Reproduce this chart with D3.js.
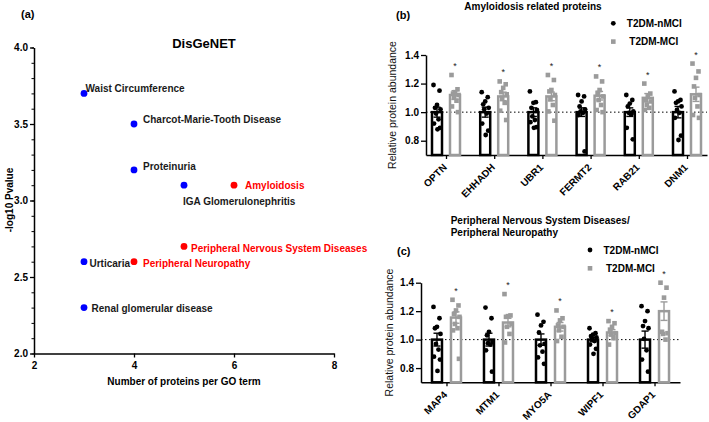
<!DOCTYPE html>
<html><head><meta charset="utf-8">
<script src="https://cdn.jsdelivr.net/npm/d3@7"></script>
<style>
body{margin:0;background:#fff;}
svg{display:block;font-family:"Liberation Sans",Arial,Helvetica,sans-serif;}
</style></head><body>
<svg id="chart" width="709" height="422"></svg>
<script>
// ---------- Panel (a) data ----------
const termNames = ["Waist Circumference","Charcot-Marie-Tooth Disease","Proteinuria","IGA Glomerulonephritis","Amyloidosis","Peripheral Nervous System Diseases","Urticaria","Peripheral Neuropathy","Renal glomerular disease"];
const termCounts = [3,4,4,5,6,5,3,4,3];
const termLogP = [3.7,3.5,3.2,3.1,3.1,2.7,2.6,2.6,2.3];
const termRelated = [false,false,false,false,true,true,false,true,false];
const aXTicks = [2,4,6,8];
const aYTicks = [2.0,2.5,3.0,3.5,4.0];

// ---------- Panel (b) data ----------
const bGenes = ["OPTN","EHHADH","UBR1","FERMT2","RAB21","DNM1"];
const bCtrlMean = [1.0,1.0,1.0,1.0,1.0,1.0];
const bCtrlSem = [0.035,0.035,0.03,0.03,0.03,0.04];
const bMciMean = [1.12,1.11,1.11,1.115,1.10,1.125];
const bMciSem = [0.03,0.03,0.03,0.03,0.03,0.05];
const bCtrlPts = [
  [1.19,1.15,1.05,1.03,1.02,0.99,0.95,0.92,0.89,0.88],
  [1.14,1.105,1.075,1.055,1.03,1.02,0.99,0.92,0.87,0.84],
  [1.145,1.07,1.065,1.03,1.015,0.97,0.945,0.93,0.895,0.89],
  [1.12,1.11,1.075,1.04,1.02,1.005,0.995,0.98,0.725],
  [1.12,1.085,1.06,1.04,1.005,0.995,0.985,0.89,0.81],
  [1.145,1.085,1.075,1.065,1.04,1.015,0.995,0.96,0.835,0.805]
];
const bMciPts = [
  [1.26,1.16,1.14,1.13,1.12,1.10,1.08,1.04,1.0],
  [1.215,1.195,1.17,1.14,1.125,1.10,1.065,1.01,0.945],
  [1.26,1.225,1.155,1.145,1.12,1.09,1.05,1.005,0.94],
  [1.25,1.215,1.155,1.135,1.11,1.085,1.05,1.015,1.0],
  [1.20,1.13,1.11,1.085,1.075,1.05,1.03,1.015],
  [1.34,1.285,1.24,1.18,1.12,1.10,1.04,0.98,0.96]
];

// ---------- Panel (c) data ----------
const cGenes = ["MAP4","MTM1","MYO5A","WIPF1","GDAP1"];
const cCtrlMean = [1.0,1.0,1.0,1.0,1.0];
const cCtrlSem = [0.045,0.045,0.04,0.015,0.06];
const cMciMean = [1.155,1.12,1.09,1.05,1.20];
const cMciSem = [0.04,0.03,0.03,0.02,0.065];
const cCtrlPts = [
  [1.23,1.15,1.09,1.08,1.04,0.97,0.93,0.88,0.86,0.78],
  [1.225,1.15,1.055,1.03,0.985,0.975,0.965,0.925,0.775],
  [1.175,1.125,1.10,1.05,0.97,0.96,0.915,0.875,0.83],
  [1.08,1.045,1.035,1.025,1.015,1.005,0.99,0.965,0.935,0.90],
  [1.235,1.20,1.13,1.095,1.08,1.005,0.925,0.86,0.775]
];
const cMciPts = [
  [1.28,1.24,1.205,1.18,1.16,1.11,1.08,1.065,0.865],
  [1.32,1.17,1.165,1.16,1.11,1.09,1.04,0.98],
  [1.205,1.15,1.135,1.10,1.09,1.065,1.02,0.99],
  [1.13,1.115,1.09,1.07,1.045,1.035,1.01,0.965],
  [1.40,1.365,1.295,1.055,1.045,1.04,1.0]
];
const groupNames = ["T2DM-nMCI","T2DM-MCI"];

// ---------- drawing ----------
const svg = d3.select("#chart");
const FONT = "'Liberation Sans',Arial,Helvetica,sans-serif";
const GREY = "#9b9b9b";
const BLUE = "#0000ff", RED = "#ff0000";

function styleAxis(g, fs){
  g.select(".domain").attr("stroke","#000").attr("stroke-width",1.5);
  g.selectAll(".tick line").attr("stroke","#000").attr("stroke-width",1.3);
  g.selectAll(".tick text").attr("fill","#000").attr("font-size",fs).attr("font-weight","bold").attr("font-family",FONT);
}

// ===== Panel (a) =====
const xA = d3.scaleLinear().domain([2,8]).range([34,334]);
const yA = d3.scaleLinear().domain([2,4]).range([353.5,47.5]);
const gA = svg.append("g");

gA.append("text").attr("x",21).attr("y",18).attr("font-size",11).attr("font-weight","bold").text("(a)");
gA.append("text").attr("x",204).attr("y",47.5).attr("text-anchor","middle").attr("font-size",13).attr("font-weight","bold").text("DisGeNET");

const yAminor = gA.append("g").attr("transform","translate(34,0)")
  .call(d3.axisLeft(yA).tickValues(d3.range(0,21).map(i=>2+i*0.1)).tickSize(2.5).tickFormat(""));
yAminor.select(".domain").remove();
yAminor.selectAll(".tick line").attr("stroke","#000").attr("stroke-width",1);

const yAx = gA.append("g").attr("transform","translate(34,0)")
  .call(d3.axisLeft(yA).tickValues(aYTicks).tickFormat(d3.format(".1f")).tickSize(4).tickSizeOuter(0).tickPadding(2));
styleAxis(yAx,10);
const xAx = gA.append("g").attr("transform","translate(0,353.5)")
  .call(d3.axisBottom(xA).tickValues(aXTicks).tickFormat(d3.format("d")).tickSize(4).tickSizeOuter(0).tickPadding(4));
styleAxis(xAx,10);

gA.append("text").attr("transform","translate(13,200) rotate(-90)").attr("text-anchor","middle")
  .attr("font-size",10).attr("font-weight","bold").text("-log10 Pvalue");
gA.append("text").attr("x",184).attr("y",385).attr("text-anchor","middle")
  .attr("font-size",10).attr("font-weight","bold").text("Number of proteins per GO term");

// label placement (layout only)
const labelOff = [[1.5,-5],[9,-5],[9,-3],[-1,16.5],[11,0],[7,2],[5.5,1.5],[9,2],[7.5,1]];
termNames.forEach((name,i)=>{
  const px = xA(termCounts[i]), py = yA(termLogP[i]);
  const col = termRelated[i] ? RED : BLUE;
  gA.append("circle").attr("cx",px).attr("cy",py).attr("r",3.4).attr("fill",col);
  gA.append("text").attr("x",px+labelOff[i][0]).attr("y",py+labelOff[i][1]).attr("dy","0.35em")
    .attr("font-size",10).attr("font-weight","bold").attr("fill",termRelated[i]?RED:"#1a1a1a").text(name);
});

// ===== Bar panels =====
const jit = [-3.5,2.5,0,-2,3.5,-1,1.5,-3,3,0.5,-2.5];
function barPanel(o){
  const g = svg.append("g");
  const x = d3.scalePoint().domain(o.genes).range([o.x0,o.x1]).padding(o.pad);
  const y = d3.scaleLinear().domain([0.7,1.4]).range([o.yb,o.yt]);
  const yAx = g.append("g").attr("transform",`translate(${o.x0},0)`)
    .call(d3.axisLeft(y).tickValues([0.8,1.0,1.2,1.4]).tickFormat(d3.format(".1f")).tickSize(5).tickSizeOuter(0).tickPadding(2));
  styleAxis(yAx,10);
  const xAx = g.append("g").attr("transform",`translate(0,${o.yb})`)
    .call(d3.axisBottom(x).tickSize(4).tickSizeOuter(0));
  styleAxis(xAx,10);
  xAx.selectAll(".tick text").attr("text-anchor","end").attr("x",0).attr("y",0).attr("dy","0")
    .attr("transform","translate(1,13) rotate(-45)");
  // dotted reference
  g.append("line").attr("x1",o.x0).attr("x2",o.x1).attr("y1",y(1)).attr("y2",y(1))
    .attr("stroke","#000").attr("stroke-width",1).attr("stroke-dasharray","1.5,2.5");
  const bw = 10;
  o.genes.forEach((gene,i)=>{
    const sets = [
      {mean:o.cMean[i],sem:o.cSem[i],pts:o.cPts[i],dx:-o.off,col:"#000",shape:"c"},
      {mean:o.mMean[i],sem:o.mSem[i],pts:o.mPts[i],dx:o.off,col:GREY,shape:"s"}
    ];
    sets.forEach(s=>{
      const cx = x(gene)+s.dx;
      g.append("rect").attr("x",cx-bw/2).attr("y",y(s.mean)).attr("width",bw).attr("height",y(0.7)-y(s.mean))
        .attr("fill","none").attr("stroke",s.col).attr("stroke-width",2.5);
      s.pts.forEach((v,k)=>{
        const px = cx + jit[k%jit.length];
        if(s.shape==="c") g.append("circle").attr("cx",px).attr("cy",y(v)).attr("r",2.4).attr("fill","#000");
        else g.append("rect").attr("x",px-2.3).attr("y",y(v)-2.3).attr("width",4.6).attr("height",4.6).attr("fill",GREY);
      });
      const e1 = y(s.mean+s.sem), e0 = y(s.mean-s.sem);
      g.append("line").attr("x1",cx).attr("x2",cx).attr("y1",e1).attr("y2",e0).attr("stroke",s.col).attr("stroke-width",1.4);
      [e1,e0].forEach(ey=>g.append("line").attr("x1",cx-3.5).attr("x2",cx+3.5).attr("y1",ey).attr("y2",ey).attr("stroke",s.col).attr("stroke-width",1.4));
    });
    const top = d3.max(o.mPts[i]);
    g.append("text").attr("x",x(gene)+o.off).attr("y",y(top)-6).attr("text-anchor","middle")
      .attr("font-size",9).attr("fill","#222").text("*");
  });
  // y label
  g.append("text").attr("transform",`translate(${o.ylx},${(o.yb+o.yt)/2}) rotate(-90)`).attr("text-anchor","middle")
    .attr("font-size",10.5).attr("fill","#111").text("Relative protein abundance");
  // panel letter
  g.append("text").attr("x",o.lx).attr("y",o.ly).attr("dy","0.35em").attr("font-size",11).attr("font-weight","bold").text(o.letter);
  // title
  o.title.forEach((t,k)=>{
    g.append("text").attr("x",o.tx).attr("y",o.ty+k*12.7).attr("dy","0.35em").attr("text-anchor",o.tanchor)
      .attr("font-size",10).attr("font-weight","bold").text(t);
  });
  // legend
  g.append("circle").attr("cx",o.legx).attr("cy",o.legy).attr("r",2.4).attr("fill","#000");
  g.append("text").attr("x",o.legx+13.5).attr("y",o.legy).attr("dy","0.35em").attr("font-size",10).attr("font-weight","bold").text(groupNames[0]);
  g.append("rect").attr("x",o.legx-2.3).attr("y",o.legy+18.3-2.3).attr("width",4.6).attr("height",4.6).attr("fill",GREY);
  g.append("text").attr("x",o.legx+16).attr("y",o.legy+18.3).attr("dy","0.35em").attr("font-size",10).attr("font-weight","bold").text(groupNames[1]);
}

barPanel({genes:bGenes,cMean:bCtrlMean,cSem:bCtrlSem,mMean:bMciMean,mSem:bMciSem,cPts:bCtrlPts,mPts:bMciPts,
  x0:426,x1:707,pad:0.415,yb:155,yt:55,off:9,ylx:396,lx:396,ly:15,letter:"(b)",
  title:["Amyloidosis related proteins"],tx:533,ty:6,tanchor:"middle",legx:613.3,legy:23.3});
barPanel({genes:cGenes,cMean:cCtrlMean,cSem:cCtrlSem,mMean:cMciMean,mSem:cMciSem,cPts:cCtrlPts,mPts:cMciPts,
  x0:421,x1:680,pad:0.49,yb:382.3,yt:282.7,off:9.5,ylx:393,lx:397,ly:250.7,letter:"(c)",
  title:["Peripheral Nervous System Diseases/","Peripheral Neuropathy"],tx:450.7,ty:220,tanchor:"start",legx:590,legy:250});
</script>
</body></html>
